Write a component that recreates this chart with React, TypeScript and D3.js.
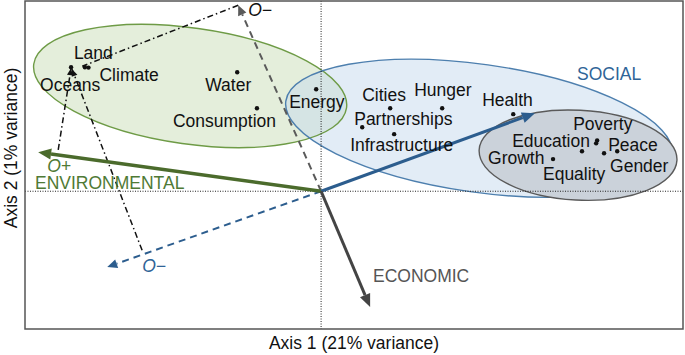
import React from "react";
import * as d3 from "d3";

const W = 685;
const H = 355;

// Goal scores on the first two ordination axes
const goals = [
  "Oceans", "Land", "Climate", "Water", "Consumption", "Energy",
  "Cities", "Hunger", "Partnerships", "Infrastructure", "Health",
  "Poverty", "Education", "Peace", "Gender", "Growth", "Equality",
];
const axis1 = [
  -0.76, -0.718, -0.707, -0.255, -0.195, -0.015,
  0.21, 0.368, 0.125, 0.222, 0.584,
  0.839, 0.836, 0.9, 0.86, 0.705, 0.793,
];
const axis2 = [
  0.378, 0.378, 0.377, 0.363, 0.253, 0.311,
  0.253, 0.253, 0.195, 0.174, 0.235,
  0.155, 0.146, 0.122, 0.116, 0.098, 0.122,
];

// Dimension loading vectors
const dimensions = ["ENVIRONMENTAL", "SOCIAL", "ECONOMIC"];
const dimX = [-0.86, 0.65, 0.149];
const dimY = [0.119, 0.238, -0.353];

// Opposite (O−) directions of the social and economic dimensions
const oppositeOf = ["SOCIAL", "ECONOMIC"];
const oppX = [-0.65, -0.252];
const oppY = [-0.231, 0.567];

// Guide lines from the axis ends to the extreme goals
const guideX1 = [-0.252, -0.799, -0.544];
const guideY1 = [0.567, 0.126, -0.18];
const guideX2 = [-0.726, -0.76, -0.757];
const guideY2 = [0.381, 0.375, 0.372];

// Group ellipses (centre, semi-axes, tilt in degrees)
const groups = ["ENVIRONMENTAL", "SOCIAL", "ECONOMIC"];
const groupCx = [-0.398, 0.48, 0.781];
const groupCy = [0.321, 0.192, 0.11];
const groupRx = [0.48, 0.593, 0.301];
const groupRy = [0.177, 0.195, 0.137];
const groupTilt = [8, 8, 3];

// Label placement relative to each point (pixels)
const labelOffset: Record<string, [number, number]> = {
  Oceans: [-31, 24],
  Land: [-11, -8],
  Climate: [11, 13],
  Water: [-32, 19],
  Consumption: [-84, 19],
  Energy: [-27, 19],
  Cities: [-28, -7],
  Hunger: [-28, -12],
  Partnerships: [-8, -2],
  Infrastructure: [-44, 17],
  Health: [-31, -8],
  Poverty: [-24, -10],
  Education: [-84, 4],
  Peace: [-9, 0],
  Gender: [6, 19],
  Growth: [-65, 5],
  Equality: [-39, 29],
};

const FONT = "'Liberation Sans', Arial, Helvetica, sans-serif";
const FS = 17.5;

const left = 25;
const right = 683;
const top = 1;
const bottom = 329;

const x = d3.scaleLinear().domain([-0.9, 1.1]).range([left, right]);
const y = d3.scaleLinear().domain([-0.42, 0.58]).range([bottom, top]);

function arrowHead(x1: number, y1: number, x2: number, y2: number, len: number, half: number) {
  const dx = x2 - x1;
  const dy = y2 - y1;
  const d = Math.hypot(dx, dy) || 1;
  const ux = dx / d;
  const uy = dy / d;
  const bx = x2 - ux * len;
  const by = y2 - uy * len;
  const nx = -uy;
  const ny = ux;
  const pts = [
    [x2, y2],
    [bx + nx * half, by + ny * half],
    [bx - nx * half, by - ny * half],
  ];
  return { bx, by, points: pts.map((p) => p.join(",")).join(" ") };
}

function Arrow(props: {
  x1: number; y1: number; x2: number; y2: number;
  color: string; width: number; dash?: string; len: number; half: number;
}) {
  const { x1, y1, x2, y2, color, width, dash, len, half } = props;
  const h = arrowHead(x1, y1, x2, y2, len, half);
  return (
    <g>
      <line x1={x1} y1={y1} x2={h.bx} y2={h.by} stroke={color} strokeWidth={width} strokeDasharray={dash} />
      <polygon points={h.points} fill={color} />
    </g>
  );
}

export default function App() {
  const x0 = x(0);
  const y0 = y(0);
  const ux = x(1) - x(0);
  const uy = y(0) - y(1);

  const ellipseStyle = [
    { fill: "#e4eedb", opacity: 1, stroke: "#6e9b46" },
    { fill: "#c6d9ee", opacity: 0.5, stroke: "#4d7fae" },
    { fill: "#cbd2da", opacity: 1, stroke: "#5a5a5a" },
  ];

  const dimStyle: Record<string, { color: string; width: number }> = {
    ENVIRONMENTAL: { color: "#4b6b2c", width: 3.5 },
    SOCIAL: { color: "#2c5d8e", width: 3 },
    ECONOMIC: { color: "#444444", width: 3 },
  };
  const oppStyle: Record<string, string> = {
    SOCIAL: "#2c5d8e",
    ECONOMIC: "#5a5a5a",
  };

  const ellipse = (i: number) => (
    <ellipse
      key={"e" + i}
      cx={0}
      cy={0}
      rx={groupRx[i] * ux}
      ry={groupRy[i] * uy}
      transform={`translate(${x(groupCx[i])},${y(groupCy[i])}) rotate(${groupTilt[i]})`}
      fill={ellipseStyle[i].fill}
      fillOpacity={ellipseStyle[i].opacity}
      stroke="none"
    />
  );
  const ellipseEdge = (i: number) => (
    <ellipse
      key={"s" + i}
      cx={0}
      cy={0}
      rx={groupRx[i] * ux}
      ry={groupRy[i] * uy}
      transform={`translate(${x(groupCx[i])},${y(groupCy[i])}) rotate(${groupTilt[i]})`}
      fill="none"
      stroke={ellipseStyle[i].stroke}
      strokeWidth={1.4}
    />
  );

  return (
    <svg
      width={W}
      height={H}
      style={{ position: "absolute", left: 0, top: 0, background: "#fff" }}
      fontFamily={FONT}
    >
      <rect x={0} y={0} width={W} height={H} fill="#fff" />

      {/* group ellipses */}
      {ellipse(0)}
      {ellipse(1)}
      {ellipseEdge(0)}
      {ellipseEdge(1)}
      {ellipse(2)}
      {ellipseEdge(2)}

      {/* zero lines */}
      <line x1={x0} x2={x0} y1={top} y2={bottom} stroke="#222" strokeWidth={1} strokeDasharray="1 1.5" />
      <line x1={left} x2={right} y1={y0} y2={y0} stroke="#222" strokeWidth={1} strokeDasharray="1 1.5" />

      {/* frame */}
      <rect x={left} y={top} width={right - left} height={bottom - top} fill="none" stroke="#555" strokeWidth={1.5} />

      {/* guide lines */}
      {guideX1.map((_, i) => (
        <line
          key={"g" + i}
          x1={x(guideX1[i])}
          y1={y(guideY1[i])}
          x2={x(guideX2[i])}
          y2={y(guideY2[i])}
          stroke="#111"
          strokeWidth={1.5}
          strokeDasharray="6 3 1.5 3"
        />
      ))}
      {[1, 2].map((i) => {
        const h = arrowHead(x(guideX1[i]), y(guideY1[i]), x(guideX2[i]), y(guideY2[i]), 7, 3);
        return <polygon key={"gh" + i} points={h.points} fill="#111" />;
      })}

      {/* opposite directions */}
      {oppositeOf.map((n, i) => (
        <Arrow
          key={"o" + n}
          x1={x0}
          y1={y0}
          x2={x(oppX[i])}
          y2={y(oppY[i])}
          color={oppStyle[n]}
          width={2}
          dash="7 5"
          len={10}
          half={4.5}
        />
      ))}

      {/* dimension vectors */}
      {dimensions.map((n, i) => (
        <Arrow
          key={"d" + n}
          x1={x0}
          y1={y0}
          x2={x(dimX[i])}
          y2={y(dimY[i])}
          color={dimStyle[n].color}
          width={dimStyle[n].width}
          len={13}
          half={5.5}
        />
      ))}

      {/* goals */}
      {goals.map((g, i) => {
        const px = x(axis1[i]);
        const py = y(axis2[i]);
        const [dx, dy] = labelOffset[g];
        return (
          <g key={g}>
            <circle cx={px} cy={py} r={2.2} fill="#111" />
            <text x={px + dx} y={py + dy} fontSize={FS} fill="#111">
              {g}
            </text>
          </g>
        );
      })}

      {/* dimension labels */}
      <text x={x(dimX[0]) + 9} y={y(dimY[0]) + 20} fontSize={FS} fontStyle="italic" fill="#4f7a35">O+</text>
      <text x={35} y={189} fontSize={FS} fill="#4f7a35">ENVIRONMENTAL</text>
      <text x={577} y={80} fontSize={FS} fill="#2f6497">SOCIAL</text>
      <text x={373} y={282} fontSize={FS} fill="#555">ECONOMIC</text>
      <text x={x(oppX[0]) + 35} y={y(oppY[0]) + 5} fontSize={FS} fontStyle="italic" fill="#2f6497">O−</text>
      <text x={x(oppX[1]) + 10} y={y(oppY[1]) + 11} fontSize={FS} fontStyle="italic" fill="#111">O−</text>

      {/* axis titles */}
      <text x={354} y={349} fontSize={FS} textAnchor="middle" fill="#111">Axis 1 (21% variance)</text>
      <text transform={`translate(17,148) rotate(-90)`} fontSize={FS} textAnchor="middle" fill="#111">
        Axis 2 (1% variance)
      </text>
    </svg>
  );
}
